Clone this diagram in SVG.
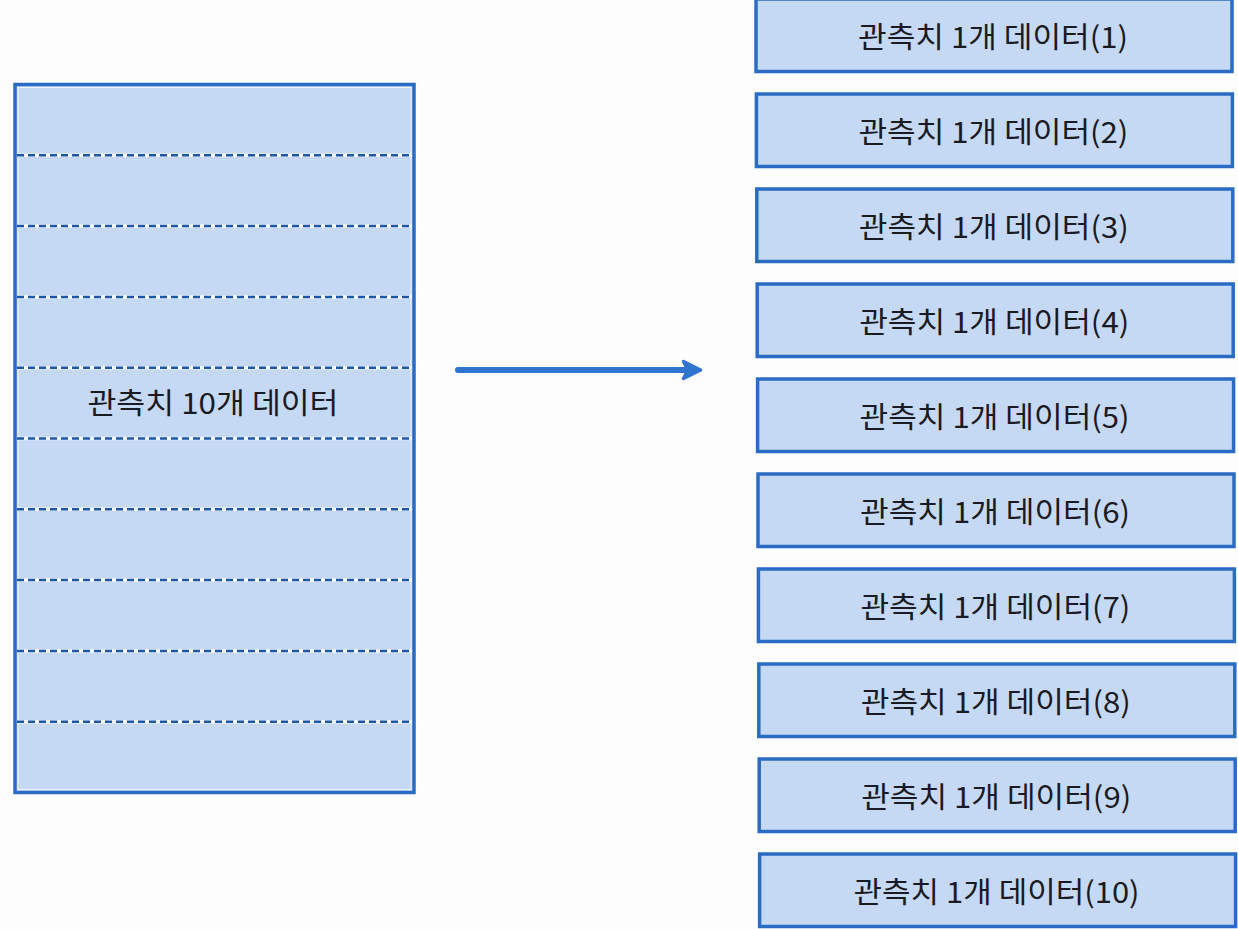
<svg xmlns="http://www.w3.org/2000/svg" width="1238" height="929" viewBox="0 0 1238 929">
<style>
.box{fill:#c6d9f4;stroke:#2a6cc4;stroke-width:3.5}
.inner{fill:none;stroke:#eef3fb;stroke-width:1}
.sep-w{stroke:#f4f7fc;stroke-width:3.5}
.sep{stroke:#1c57a5;stroke-width:2.5;stroke-dasharray:7 4}
.t{font-family:"Noto Sans CJK KR","Noto Sans",sans-serif;font-size:29px;fill:#1a1a22;text-anchor:middle;dominant-baseline:central}
</style>
<defs>
<marker id="ah" viewBox="0 0 10 10" refX="5" refY="5" markerWidth="3.6" markerHeight="3.6" orient="auto" markerUnits="strokeWidth">
<path d="M1,1 L9,5 L1,9 L3,5 Z" fill="#2f74cf" stroke="#2f74cf" stroke-width="1.5" stroke-linejoin="round"/>
</marker>
</defs>
<rect width="1238" height="929" fill="#fdfdfd"/>
<g id="source">
<rect class="box" x="15" y="84.5" width="399" height="708"/>
<rect class="inner" x="18" y="87.5" width="393" height="702"/>
<g>
<line class="sep-w" x1="17" y1="155.3" x2="412" y2="155.3"/><line class="sep" x1="17" y1="155.3" x2="412" y2="155.3"/>
<line class="sep-w" x1="17" y1="226.1" x2="412" y2="226.1"/><line class="sep" x1="17" y1="226.1" x2="412" y2="226.1"/>
<line class="sep-w" x1="17" y1="296.9" x2="412" y2="296.9"/><line class="sep" x1="17" y1="296.9" x2="412" y2="296.9"/>
<line class="sep-w" x1="17" y1="367.7" x2="412" y2="367.7"/><line class="sep" x1="17" y1="367.7" x2="412" y2="367.7"/>
<line class="sep-w" x1="17" y1="438.5" x2="412" y2="438.5"/><line class="sep" x1="17" y1="438.5" x2="412" y2="438.5"/>
<line class="sep-w" x1="17" y1="509.3" x2="412" y2="509.3"/><line class="sep" x1="17" y1="509.3" x2="412" y2="509.3"/>
<line class="sep-w" x1="17" y1="580.1" x2="412" y2="580.1"/><line class="sep" x1="17" y1="580.1" x2="412" y2="580.1"/>
<line class="sep-w" x1="17" y1="650.9" x2="412" y2="650.9"/><line class="sep" x1="17" y1="650.9" x2="412" y2="650.9"/>
<line class="sep-w" x1="17" y1="721.7" x2="412" y2="721.7"/><line class="sep" x1="17" y1="721.7" x2="412" y2="721.7"/>
</g>
<text class="t" x="213" y="401" textLength="251" lengthAdjust="spacingAndGlyphs">관측치 10개 데이터</text>
</g>
<g id="connectors">
<line x1="458" y1="370" x2="692" y2="370" stroke="#2f74cf" stroke-width="6" stroke-linecap="round" marker-end="url(#ah)"/>
</g>
<g id="n1"><rect class="box" x="756" y="-1" width="476" height="72.5"/><text class="t" x="993" y="35" textLength="270" lengthAdjust="spacingAndGlyphs">관측치 1개 데이터(1)</text></g>
<g id="n2"><rect class="box" x="756.4" y="94" width="476" height="72.5"/><text class="t" x="993.4" y="130" textLength="270" lengthAdjust="spacingAndGlyphs">관측치 1개 데이터(2)</text></g>
<g id="n3"><rect class="box" x="756.8" y="189" width="476" height="72.5"/><text class="t" x="993.8" y="225" textLength="270" lengthAdjust="spacingAndGlyphs">관측치 1개 데이터(3)</text></g>
<g id="n4"><rect class="box" x="757.2" y="284" width="476" height="72.5"/><text class="t" x="994.2" y="320" textLength="270" lengthAdjust="spacingAndGlyphs">관측치 1개 데이터(4)</text></g>
<g id="n5"><rect class="box" x="757.6" y="379" width="476" height="72.5"/><text class="t" x="994.6" y="415" textLength="270" lengthAdjust="spacingAndGlyphs">관측치 1개 데이터(5)</text></g>
<g id="n6"><rect class="box" x="758" y="474" width="476" height="72.5"/><text class="t" x="995" y="510" textLength="270" lengthAdjust="spacingAndGlyphs">관측치 1개 데이터(6)</text></g>
<g id="n7"><rect class="box" x="758.4" y="569" width="476" height="72.5"/><text class="t" x="995.4" y="605" textLength="270" lengthAdjust="spacingAndGlyphs">관측치 1개 데이터(7)</text></g>
<g id="n8"><rect class="box" x="758.8" y="664" width="476" height="72.5"/><text class="t" x="995.8" y="700" textLength="270" lengthAdjust="spacingAndGlyphs">관측치 1개 데이터(8)</text></g>
<g id="n9"><rect class="box" x="759.2" y="759" width="476" height="72.5"/><text class="t" x="996.2" y="795" textLength="270" lengthAdjust="spacingAndGlyphs">관측치 1개 데이터(9)</text></g>
<g id="n10"><rect class="box" x="759.6" y="854" width="476" height="72.5"/><text class="t" x="996.6" y="890" textLength="286" lengthAdjust="spacingAndGlyphs">관측치 1개 데이터(10)</text></g>
</svg>
